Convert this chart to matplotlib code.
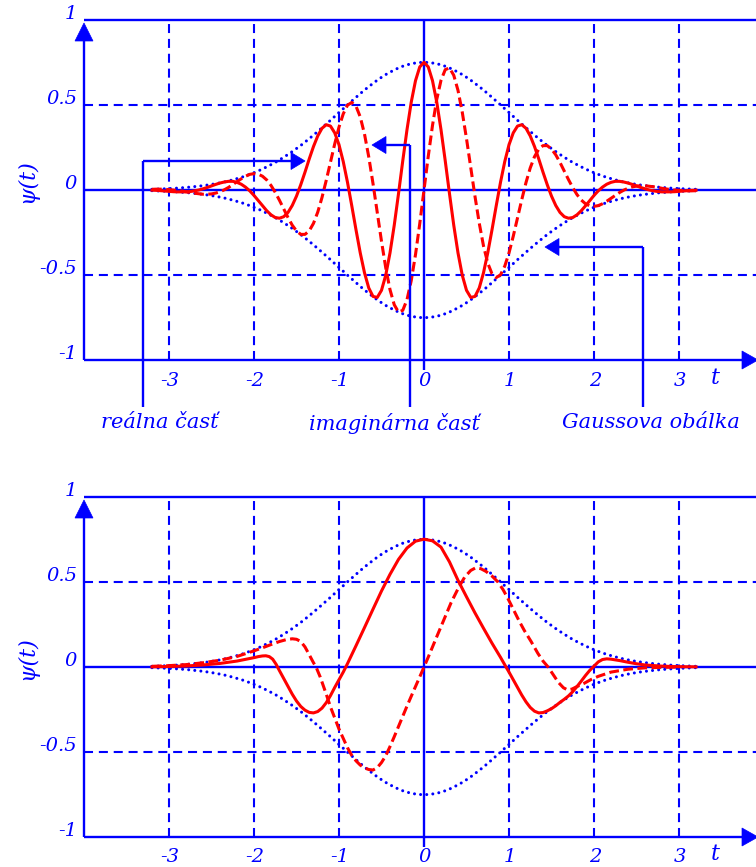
import numpy as np
import matplotlib
matplotlib.use('Agg')
import matplotlib.pyplot as plt
from matplotlib.patches import Polygon

W, H, DPI = 756, 867, 100
BLUE = (0, 0, 1)
RED = (1, 0, 0)
FONT = dict(family='DejaVu Serif', style='italic', color=BLUE)

# ---------------- data ----------------
# top panel: sample positions t = -3.2 ... 3.2 (step 0.05)
t_top = [round(-3.2 + 0.05 * i, 2) for i in range(129)]
re_top = [-0.001, -0.002, -0.004, -0.006, -0.008, -0.010, -0.011, -0.011, -0.011, -0.009, -0.005, 0.000,
          0.007, 0.015, 0.024, 0.033, 0.041, 0.047, 0.051, 0.051, 0.045, 0.034, 0.017, -0.005, -0.032,
          -0.062, -0.093, -0.122, -0.146, -0.162, -0.166, -0.157, -0.132, -0.091, -0.036, 0.031, 0.105,
          0.183, 0.256, 0.318, 0.363, 0.384, 0.376, 0.336, 0.266, 0.167, 0.045, -0.092, -0.234, -0.370,
          -0.487, -0.576, -0.626, -0.632, -0.590, -0.501, -0.370, -0.207, -0.022, 0.171, 0.355, 0.517,
          0.643, 0.724,
          0.751,
          0.724, 0.643, 0.517, 0.355, 0.171, -0.022, -0.207, -0.370, -0.501, -0.590, -0.632, -0.626,
          -0.576, -0.487, -0.370, -0.234, -0.092, 0.045, 0.167, 0.266, 0.336, 0.376, 0.384, 0.363, 0.318,
          0.256, 0.183, 0.105, 0.031, -0.036, -0.091, -0.132, -0.157, -0.166, -0.162, -0.146, -0.122,
          -0.093, -0.062, -0.032, -0.005, 0.017, 0.034, 0.045, 0.051, 0.051, 0.047, 0.041, 0.033, 0.024,
          0.015, 0.007, 0.000, -0.005, -0.009, -0.011, -0.011, -0.011, -0.010, -0.008, -0.006, -0.004,
          -0.002, -0.001]
im_top = [0.004, 0.005, 0.005, 0.004, 0.002, 0.000, -0.003, -0.006, -0.010, -0.015, -0.019, -0.022,
          -0.025, -0.025, -0.023, -0.018, -0.010, 0.001, 0.015, 0.032, 0.049, 0.066, 0.081, 0.092, 0.096,
          0.093, 0.081, 0.059, 0.027, -0.014, -0.061, -0.112, -0.162, -0.207, -0.241, -0.261, -0.261,
          -0.240, -0.196, -0.130, -0.044, 0.057, 0.165, 0.272, 0.370, 0.448, 0.499, 0.515, 0.493, 0.430,
          0.329, 0.195, 0.038, -0.133, -0.302, -0.458, -0.586, -0.675, -0.718, -0.708, -0.645, -0.533,
          -0.380, -0.198,
          0.000,
          0.198, 0.380, 0.533, 0.645, 0.708, 0.718, 0.675, 0.586, 0.458, 0.302, 0.133, -0.038, -0.195,
          -0.329, -0.430, -0.493, -0.515, -0.499, -0.448, -0.370, -0.272, -0.165, -0.057, 0.044, 0.130,
          0.196, 0.240, 0.261, 0.261, 0.241, 0.207, 0.162, 0.112, 0.061, 0.014, -0.027, -0.059, -0.081,
          -0.093, -0.096, -0.092, -0.081, -0.066, -0.049, -0.032, -0.015, -0.001, 0.010, 0.018, 0.023,
          0.025, 0.025, 0.022, 0.019, 0.015, 0.010, 0.006, 0.003, 0.000, -0.002, -0.004, -0.005, -0.005,
          -0.004]
# Gaussian envelope (dotted, both panels), same t positions
envelope = [0.004, 0.005, 0.006, 0.007, 0.008, 0.010, 0.011, 0.013, 0.015, 0.017, 0.020, 0.022, 0.026,
            0.029, 0.033, 0.037, 0.042, 0.047, 0.053, 0.060, 0.067, 0.074, 0.083, 0.092, 0.102, 0.112,
            0.124, 0.136, 0.149, 0.162, 0.177, 0.193, 0.209, 0.226, 0.244, 0.262, 0.282, 0.302, 0.323,
            0.344, 0.366, 0.388, 0.410, 0.433, 0.456, 0.478, 0.501, 0.523, 0.545, 0.567, 0.588, 0.608,
            0.627, 0.646, 0.663, 0.679, 0.693, 0.706, 0.718, 0.728, 0.736, 0.743, 0.747, 0.750,
            0.751,
            0.750, 0.747, 0.743, 0.736, 0.728, 0.718, 0.706, 0.693, 0.679, 0.663, 0.646, 0.627, 0.608,
            0.588, 0.567, 0.545, 0.523, 0.501, 0.478, 0.456, 0.433, 0.410, 0.388, 0.366, 0.344, 0.323,
            0.302, 0.282, 0.262, 0.244, 0.226, 0.209, 0.193, 0.177, 0.162, 0.149, 0.136, 0.124, 0.112,
            0.102, 0.092, 0.083, 0.074, 0.067, 0.060, 0.053, 0.047, 0.042, 0.037, 0.033, 0.029, 0.026,
            0.022, 0.020, 0.017, 0.015, 0.013, 0.011, 0.010, 0.008, 0.007, 0.006, 0.005, 0.004]

# bottom panel
t_re_bot = [-3.2, -3.0, -2.8, -2.6, -2.4, -2.2, -2.1, -2.0, -1.95, -1.9, -1.86, -1.82, -1.78, -1.74,
            -1.70, -1.65, -1.60, -1.55, -1.50, -1.45, -1.40, -1.35, -1.30, -1.25, -1.20, -1.15, -1.10,
            -1.05, -1.00, -0.95, -0.92, -0.9, -0.8, -0.7, -0.6, -0.5, -0.4, -0.3, -0.2, -0.1, 0.0,
            0.1, 0.2, 0.3, 0.4, 0.5, 0.6, 0.7, 0.8, 0.9, 0.965, 1.0, 1.05, 1.1, 1.15, 1.2, 1.25, 1.3,
            1.35, 1.4, 1.45, 1.5, 1.55, 1.6, 1.65, 1.7, 1.75, 1.8, 1.85, 1.9, 1.95, 2.0, 2.05, 2.1,
            2.15, 2.2, 2.3, 2.4, 2.5, 2.6, 2.8, 3.0, 3.2]
re_bot = [0.001, 0.003, 0.006, 0.012, 0.021, 0.035, 0.045, 0.055, 0.061, 0.065, 0.066, 0.061, 0.046,
          0.016, -0.022, -0.068, -0.114, -0.160, -0.200, -0.232, -0.254, -0.267, -0.270, -0.262, -0.242,
          -0.210, -0.168, -0.120, -0.075, -0.030, 0.0, 0.020, 0.125, 0.232, 0.340, 0.447, 0.545, 0.633,
          0.700, 0.740, 0.752,
          0.742, 0.705, 0.618, 0.510, 0.413, 0.318, 0.228, 0.140, 0.057, 0.0, -0.030, -0.075, -0.120,
          -0.165, -0.205, -0.238, -0.260, -0.270, -0.268, -0.258, -0.245, -0.228, -0.208, -0.190, -0.170,
          -0.145, -0.115, -0.083, -0.050, -0.020, 0.005, 0.030, 0.044, 0.048, 0.046, 0.038, 0.028, 0.019,
          0.012, 0.005, 0.002, 0.001]
t_im_bot = [-3.2, -3.0, -2.8, -2.6, -2.4, -2.2, -2.0, -1.9, -1.8, -1.7, -1.62, -1.55, -1.50, -1.45,
            -1.40, -1.35, -1.30, -1.27, -1.22, -1.15, -1.10, -1.05, -1.00, -0.95, -0.90, -0.85, -0.80,
            -0.75, -0.70, -0.65, -0.60, -0.55, -0.50, -0.45, -0.40, -0.35, -0.30, -0.25, -0.20, -0.15,
            -0.10, -0.05, 0.0, 0.05, 0.10, 0.16, 0.24, 0.32, 0.41, 0.48, 0.55, 0.61, 0.67, 0.73, 0.80,
            0.87, 0.93, 0.985, 1.05, 1.12, 1.18, 1.26, 1.34, 1.40, 1.46, 1.52, 1.58, 1.64, 1.69, 1.74,
            1.80, 1.88, 1.96, 2.05, 2.2, 2.4, 2.6, 2.8, 3.0]
im_bot = [0.004, 0.008, 0.014, 0.025, 0.040, 0.062, 0.095, 0.113, 0.132, 0.150, 0.161, 0.166, 0.163,
          0.150, 0.118, 0.072, 0.025, 0.0, -0.060, -0.160, -0.235, -0.300, -0.365, -0.420, -0.475,
          -0.520, -0.552, -0.577, -0.594, -0.603, -0.606, -0.592, -0.562, -0.522, -0.468, -0.410,
          -0.350, -0.290, -0.230, -0.172, -0.115, -0.058, 0.0, 0.058, 0.118, 0.190, 0.285, 0.380, 0.470,
          0.530, 0.568, 0.584, 0.578, 0.562, 0.535, 0.500, 0.455, 0.405, 0.340, 0.270, 0.215, 0.150,
          0.080, 0.035, 0.0, -0.045, -0.090, -0.122, -0.135, -0.130, -0.115, -0.097, -0.075, -0.055,
          -0.030, -0.013, -0.005, -0.002, -0.001]

x_ticks = [-3, -2, -1, 0, 1, 2, 3]
x_tick_labels = ['-3', '-2', '-1', '0', '1', '2', '3']
y_ticks = [1, 0.5, 0, -0.5, -1]
y_tick_labels = ['1', '0.5', '0', '-0.5', '-1']
grid_t = [-3, -2, -1, 1, 2, 3]
grid_v = [0.5, -0.5]
callouts = ['reálna časť', 'imaginárna časť', 'Gaussova obálka']

plt.rcParams['lines.scale_dashes'] = False

fig = plt.figure(figsize=(W / DPI, H / DPI), dpi=DPI)

PX_T, PX_V, X0 = 85.0, 170.0, 424.0
T_LEFT = -4.0
T_RIGHT = (W - X0) / PX_T


def make_axes(py_top, py_bot, py_zero):
    ax = fig.add_axes([0, 1 - py_bot / H, 1, (py_bot - py_top) / H])
    ax.set_xlim((0 - X0) / PX_T, (W - X0) / PX_T)
    ax.set_ylim((py_zero - py_bot) / PX_V, (py_zero - py_top) / PX_V)
    ax.axis('off')
    return ax


def tri(ax, pts):
    ax.add_patch(Polygon(pts, closed=True, facecolor=BLUE, edgecolor=BLUE, lw=0.5,
                         clip_on=False, zorder=5))


def frame(ax, label_v):
    kw = dict(color=BLUE, lw=1.5, ls=(0, (6.5, 4.2)), solid_capstyle='butt', zorder=1, clip_on=False)
    for t in grid_t:
        ax.plot([t, t], [-1, 1], **kw)
    for v in grid_v:
        ax.plot([T_LEFT, T_RIGHT], [v, v], **kw)
    sk = dict(color=BLUE, lw=1.7, zorder=2, clip_on=False, solid_capstyle='butt')
    ax.plot([T_LEFT, T_RIGHT], [1, 1], **sk)
    ax.plot([T_LEFT, T_RIGHT], [0, 0], **sk)
    ax.plot([T_LEFT, T_RIGHT - 10 / PX_T], [-1, -1], **sk)
    ax.plot([T_LEFT, T_LEFT], [-1, 1 - 20 / PX_V], **sk)
    ax.plot([0, 0], [1, -1 - 10 / PX_V], **sk)
    tip_v = 1 - 3 / PX_V
    tri(ax, [(T_LEFT, tip_v), (T_LEFT - 9 / PX_T, tip_v - 18 / PX_V), (T_LEFT + 9 / PX_T, tip_v - 18 / PX_V)])
    tip_t = (W + 2 - X0) / PX_T
    tri(ax, [(tip_t, -1), (tip_t - 16 / PX_T, -1 + 9 / PX_V), (tip_t - 16 / PX_T, -1 - 9 / PX_V)])
    for v, s in zip(y_ticks, y_tick_labels):
        ax.text((77 - X0) / PX_T, v + 6 / PX_V, s, ha='right', va='center', fontsize=14, **FONT)
    for t, s in zip(x_ticks, x_tick_labels):
        ax.text(t + 1 / PX_T, label_v, s, ha='center', va='center', fontsize=14, **FONT)
    ax.text((715 - X0) / PX_T, label_v + 3 / PX_V, 't', ha='center', va='center', fontsize=16, **FONT)
    ax.text((27 - X0) / PX_T, 0.05, 'ψ(t)', ha='center', va='center', rotation=90, fontsize=16, **FONT)


def curves(ax, t_env, env, t_re, re, t_im, im):
    env = np.asarray(env)
    dk = dict(color=BLUE, lw=2.2, ls=(0, (0.01, 4.4)), dash_capstyle='round', zorder=3)
    ax.plot(t_env, env, **dk)
    ax.plot(t_env, -env, **dk)
    ax.plot(t_re, re, color=RED, lw=2.2, zorder=4, solid_joinstyle='round')
    ax.plot(t_im, im, color=RED, lw=2.2, ls=(0, (7, 3.2)), zorder=4)


ax1 = make_axes(0, 440, 190)
frame(ax1, (190 - 381) / PX_V)
curves(ax1, t_top, envelope, t_top, re_top, t_top, im_top)

lk = dict(color=BLUE, lw=1.7, zorder=5, clip_on=False, solid_capstyle='butt')


def callout(ax, x_px, y_px, tip_px, text, text_x):
    t = (x_px - X0) / PX_T
    v = (190 - y_px) / PX_V
    vb = (190 - 407) / PX_V
    tip = (tip_px - X0) / PX_T
    base = tip + 14 / PX_T * np.sign(t - tip)
    ax.plot([t, t], [vb, v], **lk)
    ax.plot([t, base], [v, v], **lk)
    tri(ax, [(tip, v), (base, v + 8.5 / PX_V), (base, v - 8.5 / PX_V)])
    ax.text((text_x - X0) / PX_T, (190 - 423) / PX_V, text, ha='center', va='center', fontsize=15, **FONT)


callout(ax1, 143, 161, 305, callouts[0], 160)
callout(ax1, 410, 145, 372, callouts[1], 394)
callout(ax1, 643, 247, 545, callouts[2], 651)

ax2 = make_axes(440, 867, 667)
frame(ax2, (667 - 857) / PX_V)
curves(ax2, t_top, envelope, t_re_bot, re_bot, t_im_bot, im_bot)

fig.savefig('out.png', dpi=DPI)
